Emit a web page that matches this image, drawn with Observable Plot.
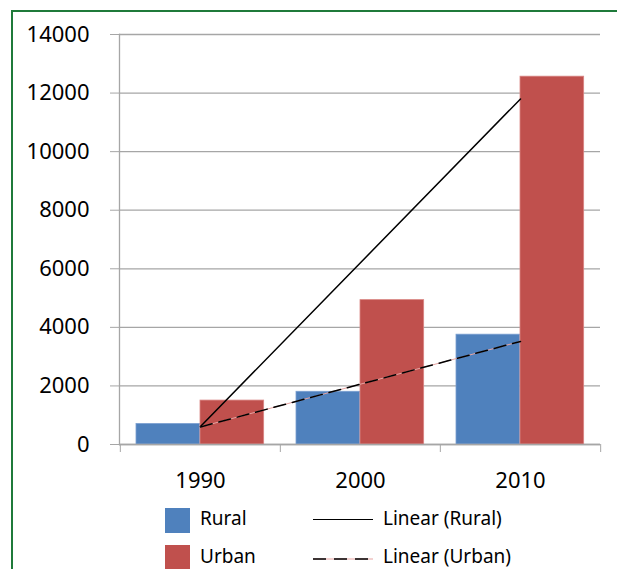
<!DOCTYPE html>
<html>
<head>
<meta charset="utf-8">
<script src="https://cdn.jsdelivr.net/npm/d3@7"></script>
<script src="https://cdn.jsdelivr.net/npm/@observablehq/plot@0.6"></script>
<style>
  html, body { margin: 0; padding: 0; background: #fff; }
  #wrap { position: relative; width: 617px; height: 569px; overflow: hidden; font-family: "Noto Sans", sans-serif; }
  #border { position: absolute; left: 11px; top: 10px; width: 700px; height: 700px; border-left: 2px solid #1f7a3a; border-top: 2px solid #1f7a3a; }
  #chart { position: absolute; left: 0; top: 0; }
  .leg { position: absolute; font-size: 19px; color: #000; line-height: 1; }
  .sw { position: absolute; width: 25px; height: 25px; }
  .ln { position: absolute; width: 60px; height: 0; }
</style>
</head>
<body>
<div id="wrap">
  <div id="border"></div>
  <div id="chart"></div>
  <div class="sw" style="left:165px; top:508px; background:#4F81BD"></div>
  <div class="leg" style="left:200px; top:509px">Rural</div>
  <div class="sw" style="left:165px; top:545px; background:#C0504D"></div>
  <div class="leg" style="left:200px; top:547px">Urban</div>
  <div class="ln" style="left:313px; top:519px; border-top:1.5px solid #000"></div>
  <div class="leg" style="left:383px; top:509px">Linear (Rural)</div>
  <svg class="ln" style="left:313px; top:557px; width:60px; height:4px; overflow:visible">
    <line x1="0" y1="2" x2="60" y2="2" stroke="#e6a3a1" stroke-width="1"/>
    <line x1="0" y1="2" x2="60" y2="2" stroke="#000" stroke-width="1.5" stroke-dasharray="13,8"/>
  </svg>
  <div class="leg" style="left:383px; top:547px">Linear (Urban)</div>
</div>
<script>
const years = ["1990", "2000", "2010"];
const rural = [700, 1800, 3750];
const urban = [1500, 4930, 12560];
const trendYears = ["1990", "2010"];
const trendRural = [615, 11800];
const trendUrban = [600, 3520];
const yTicks = [0, 2000, 4000, 6000, 8000, 10000, 12000, 14000];

const ruralData = years.map((y, i) => ({year: y, value: rural[i]}));
const urbanData = years.map((y, i) => ({year: y, value: urban[i]}));
const trendR = trendYears.map((y, i) => ({year: y, value: trendRural[i]}));
const trendU = trendYears.map((y, i) => ({year: y, value: trendUrban[i]}));

const W = 617, ML = 119, MR = 17;
const bw = (W - ML - MR) / years.length;
const grid = "#a6a6a6";

const chart = Plot.plot({
  width: W,
  height: 500,
  marginLeft: ML,
  marginRight: MR,
  marginTop: 34,
  marginBottom: 56,
  style: {fontFamily: "Noto Sans", fontSize: "22px", color: "#000", background: "transparent", overflow: "visible"},
  x: {domain: years, padding: 0, axis: null},
  y: {domain: [0, 14000], axis: null},
  marks: [
    Plot.ruleY(yTicks, {stroke: grid, strokeWidth: 1.3}),
    Plot.axisY({ticks: yTicks, tickSize: 9, tickPadding: 21, stroke: grid, tickFormat: d => String(d), label: null}),
    Plot.axisX({tickSize: 8, tickFormat: () => "", dx: -bw / 2, stroke: grid, label: null}),
    Plot.axisX({ticks: ["2010"], tickSize: 8, tickFormat: () => "", dx: bw / 2, stroke: grid, label: null}),
    Plot.axisX({tickSize: 0, tickPadding: 28, label: null}),
    Plot.frame({anchor: "left", stroke: grid, strokeWidth: 1.3}),
    Plot.barY(ruralData, {x: "year", y: "value", fill: "#4F81BD", insetLeft: 16, insetRight: bw - 80, stroke: "#7a9fd0", strokeWidth: 0.8}),
    Plot.barY(urbanData, {x: "year", y: "value", fill: "#C0504D", insetLeft: 80, insetRight: bw - 144, stroke: "#d98583", strokeWidth: 0.8}),
    Plot.ruleY([0], {stroke: grid, strokeWidth: 1.3}),
    Plot.line(trendR, {x: "year", y: "value", stroke: "#000", strokeWidth: 1.5}),
    Plot.line(trendU, {x: "year", y: "value", stroke: "#e6a3a1", strokeWidth: 1}),
    Plot.line(trendU, {x: "year", y: "value", stroke: "#000", strokeWidth: 1.5, strokeDasharray: "12,7"})
  ]
});
document.getElementById("chart").appendChild(chart);
</script>
</body>
</html>
